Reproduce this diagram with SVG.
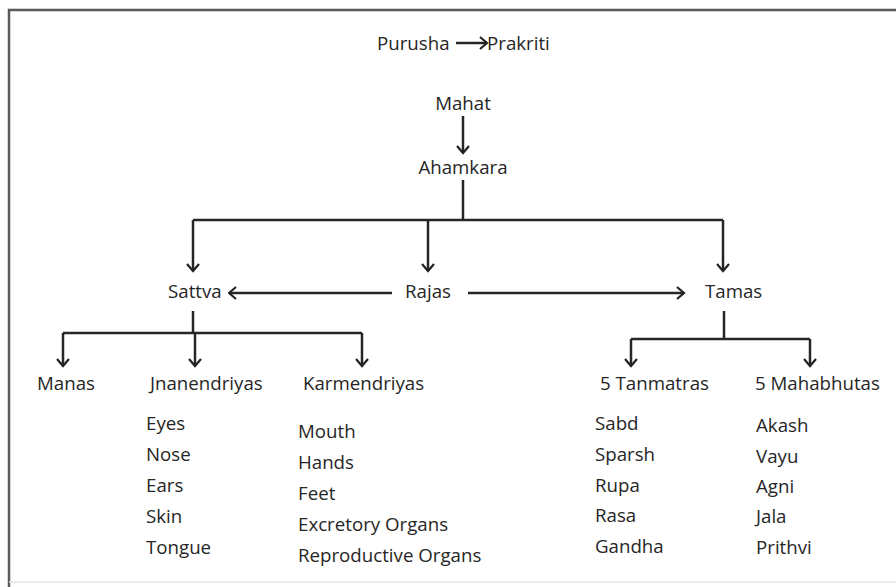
<svg xmlns="http://www.w3.org/2000/svg" width="896" height="587" viewBox="0 0 896 587">
<defs>
<marker id="ah" viewBox="0 0 10 14" refX="8.5" refY="7" markerWidth="10" markerHeight="14" markerUnits="userSpaceOnUse" orient="auto">
<path d="M1.5,1 L8.5,7 L1.5,13" fill="none" stroke="#222" stroke-width="2.2"/>
</marker>
<style>
text{font-family:"Open Sans","Noto Sans",sans-serif;font-size:18.7px;fill:#262626}
.c{stroke:#262626;stroke-width:2.5;fill:none}
.a{marker-end:url(#ah)}
</style>
</defs>
<rect width="896" height="587" fill="#fff"/>
<path d="M9,587 V10 H896" fill="none" stroke="#5a5a5a" stroke-width="2.5"/>
<path d="M9,582 H896" fill="none" stroke="#e6e6e6" stroke-width="1.5"/>
<g id="connectors">
<path class="c a" d="M456,43 H487"/>
<path class="c a" d="M463,116 V153"/>
<path class="c" d="M463,180 V220"/>
<path class="c" d="M193,220 H723"/>
<path class="c a" d="M193,220 V271"/>
<path class="c a" d="M428,220 V271"/>
<path class="c a" d="M723,220 V271"/>
<path class="c a" d="M392,293 H229"/>
<path class="c a" d="M468,293 H684"/>
<path class="c" d="M193,311 V333"/>
<path class="c" d="M63,333 H362"/>
<path class="c a" d="M63,333 V366"/>
<path class="c a" d="M195,333 V366"/>
<path class="c a" d="M362,333 V366"/>
<path class="c" d="M724,311 V339"/>
<path class="c" d="M631,339 H810"/>
<path class="c a" d="M631,339 V366"/>
<path class="c a" d="M810,339 V366"/>
</g>
<g id="purusha"><text x="377" y="50">Purusha</text></g>
<g id="prakriti"><text x="487" y="50">Prakriti</text></g>
<g id="mahat"><text x="463" y="110" text-anchor="middle">Mahat</text></g>
<g id="ahamkara"><text x="463" y="174" text-anchor="middle">Ahamkara</text></g>
<g id="sattva"><text x="168" y="298">Sattva</text></g>
<g id="rajas"><text x="405" y="298">Rajas</text></g>
<g id="tamas"><text x="705" y="298">Tamas</text></g>
<g id="manas"><text x="37" y="390">Manas</text></g>
<g id="jnanendriyas">
<text x="150" y="390">Jnanendriyas</text>
<text x="146" y="430">Eyes</text>
<text x="146" y="461">Nose</text>
<text x="146" y="492">Ears</text>
<text x="146" y="523">Skin</text>
<text x="146" y="554">Tongue</text>
</g>
<g id="karmendriyas">
<text x="303" y="390">Karmendriyas</text>
<text x="298" y="438">Mouth</text>
<text x="298" y="469">Hands</text>
<text x="298" y="500">Feet</text>
<text x="298" y="531">Excretory Organs</text>
<text x="298" y="562">Reproductive Organs</text>
</g>
<g id="tanmatras">
<text x="600" y="390">5 Tanmatras</text>
<text x="595" y="430">Sabd</text>
<text x="595" y="461">Sparsh</text>
<text x="595" y="492">Rupa</text>
<text x="595" y="522">Rasa</text>
<text x="595" y="553">Gandha</text>
</g>
<g id="mahabhutas">
<text x="755" y="390">5 Mahabhutas</text>
<text x="756" y="432">Akash</text>
<text x="756" y="463">Vayu</text>
<text x="756" y="493">Agni</text>
<text x="756" y="523">Jala</text>
<text x="756" y="554">Prithvi</text>
</g>
</svg>
